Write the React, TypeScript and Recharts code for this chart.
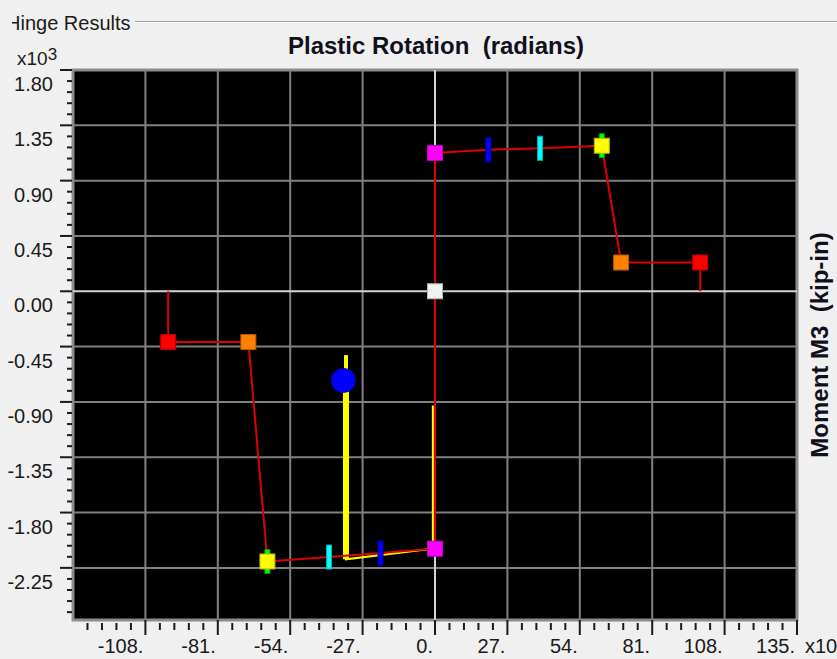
import React from "react";
import {
  ComposedChart,
  Line,
  ReferenceArea,
  ReferenceLine,
  Scatter,
  XAxis,
  YAxis,
} from "recharts";

const WIDTH = 837;
const HEIGHT = 659;
const PLOT = { left: 73, right: 797, top: 70, bottom: 620 };
const FONT = "'Liberation Sans', Arial, sans-serif";

// rotation in x10^-3 rad, moment in x10^3 kip-in
const X_DOMAIN: [number, number] = [-135, 135];
const Y_DOMAIN: [number, number] = [-2.674, 1.8];

const rotationGridLines = [-108, -81, -54, -27, 27, 54, 81, 108];
const momentGridLines = [1.35, 0.9, 0.45, -0.45, -0.9, -1.35, -1.8, -2.25];

// five minor divisions per labelled step
const rotationTicks = Array.from({ length: 50 }, (_, i) =>
  Math.round((-135 + 5.4 * (i + 1)) * 10) / 10,
);
const momentTicks = Array.from({ length: 50 }, (_, i) =>
  Math.round((1.8 - 0.09 * i) * 100) / 100,
);

// hinge backbone points, in order B, IO, LS, CP, C, D, E
const hingePoints = ["B", "IO", "LS", "CP", "C", "D", "E"];
const positiveRotation = [0, 19.9, 39.2, 62.2, 62.2, 69.4, 98.9];
const positiveMoment = [1.125, 1.152, 1.163, 1.184, 1.184, 0.234, 0.234];
const negativeRotation = [0, -20.3, -39.5, -62.5, -62.5, -69.6, -99.5];
const negativeMoment = [-2.094, -2.129, -2.162, -2.198, -2.198, -0.413, -0.413];

// analysis path of the hinge
const responseRotation = [-0.8, -0.8, -33.2, -33.2];
const responseMoment = [-0.93, -2.094, -2.18, -0.52];
const currentRotation = -34.2;
const currentMoment = -0.725;

const backboneData = [
  { x: negativeRotation[6], y: 0 },
  ...negativeRotation
    .map((x, i) => ({ x, y: negativeMoment[i] }))
    .reverse(),
  ...positiveRotation.map((x, i) => ({ x, y: positiveMoment[i] })),
  { x: positiveRotation[6], y: 0 },
];

const responseData = responseRotation.map((x, i) => ({
  x,
  y: responseMoment[i],
}));
const currentBarData = [
  { x: responseRotation[2], y: responseMoment[2] },
  { x: responseRotation[2], y: currentMoment },
];
const currentTipData = [
  { x: responseRotation[2], y: currentMoment },
  { x: responseRotation[2], y: responseMoment[3] },
];

const markerData = [
  { x: 0, y: 0, state: "A" },
  ...hingePoints.map((state, i) => ({
    x: negativeRotation[i],
    y: negativeMoment[i],
    state,
  })),
  ...hingePoints.map((state, i) => ({
    x: positiveRotation[i],
    y: positiveMoment[i],
    state,
  })),
];

const stateStyles: Record<string, { bar: boolean; fill: string; stroke: string }> = {
  A: { bar: false, fill: "#f2f2f2", stroke: "#b4b4b4" },
  B: { bar: false, fill: "#ff00ff", stroke: "#c000c0" },
  IO: { bar: true, fill: "#0000ff", stroke: "#0000b0" },
  LS: { bar: true, fill: "#00ffff", stroke: "#00b4b4" },
  CP: { bar: true, fill: "#00ff00", stroke: "#00a000" },
  C: { bar: false, fill: "#ffff00", stroke: "#b4b400" },
  D: { bar: false, fill: "#ff8000", stroke: "#b45a00" },
  E: { bar: false, fill: "#ff0000", stroke: "#b40000" },
};

function isMultiple(value: number, step: number) {
  const ratio = value / step;
  return Math.abs(ratio - Math.round(ratio)) < 1e-6;
}

function HingeMarker(props: any) {
  const { cx, cy, payload } = props;
  const style = stateStyles[payload.state];
  if (style.bar) {
    return (
      <rect
        x={cx - 2.5}
        y={cy - 12}
        width={5}
        height={24}
        fill={style.fill}
        stroke={style.stroke}
        strokeWidth={1}
      />
    );
  }
  return (
    <rect
      x={cx - 7.5}
      y={cy - 7.5}
      width={15}
      height={15}
      fill={style.fill}
      stroke={style.stroke}
      strokeWidth={1}
    />
  );
}

function CurrentStep(props: any) {
  const { cx, cy } = props;
  return <circle cx={cx} cy={cy} r={12} fill="#0000ff" stroke="#0000d0" />;
}

function RotationTick(props: any) {
  const { x, payload } = props;
  const major = isMultiple(payload.value, 27);
  return (
    <g>
      <line
        x1={x}
        x2={x}
        y1={major ? PLOT.bottom : PLOT.bottom + 3}
        y2={major ? PLOT.bottom + 15 : PLOT.bottom + 10}
        stroke="#1a1a1a"
        strokeWidth={2}
      />
      {major && (
        <text
          x={x - 2}
          y={PLOT.bottom + 33}
          textAnchor="end"
          fontFamily={FONT}
          fontSize={20}
          fill="#1a1a1a"
        >
          {`${payload.value}.`}
        </text>
      )}
    </g>
  );
}

function MomentTick(props: any) {
  const { y, payload } = props;
  const major = isMultiple(payload.value, 0.45);
  return (
    <g>
      <line
        x1={major ? PLOT.left - 13 : PLOT.left - 6}
        x2={PLOT.left - 1}
        y1={y}
        y2={y}
        stroke="#1a1a1a"
        strokeWidth={2}
      />
      {major && (
        <text
          x={PLOT.left - 20}
          y={y + 21}
          textAnchor="end"
          fontFamily={FONT}
          fontSize={20}
          fill="#1a1a1a"
        >
          {payload.value.toFixed(2)}
        </text>
      )}
    </g>
  );
}

export default function App() {
  return (
    <div
      style={{
        position: "absolute",
        left: 0,
        top: 0,
        width: WIDTH,
        height: HEIGHT,
        background: "#f0f0f0",
        overflow: "hidden",
      }}
    >
      <ComposedChart
        width={WIDTH}
        height={HEIGHT}
        margin={{
          top: PLOT.top,
          right: WIDTH - PLOT.right,
          bottom: 0,
          left: 0,
        }}
      >
        <XAxis
          dataKey="x"
          type="number"
          domain={X_DOMAIN}
          allowDataOverflow
          ticks={rotationTicks}
          interval={0}
          height={HEIGHT - PLOT.bottom}
          axisLine={false}
          tickLine={false}
          tick={<RotationTick />}
        />
        <YAxis
          dataKey="y"
          type="number"
          domain={Y_DOMAIN}
          allowDataOverflow
          ticks={momentTicks}
          interval={0}
          width={PLOT.left}
          axisLine={false}
          tickLine={false}
          tick={<MomentTick />}
        />
        <ReferenceArea
          x1={X_DOMAIN[0]}
          x2={X_DOMAIN[1]}
          y1={Y_DOMAIN[0]}
          y2={Y_DOMAIN[1]}
          fill="#000000"
          fillOpacity={1}
          stroke="#8c8c8c"
          strokeWidth={3}
          zIndex={-60}
        />
        {rotationGridLines.map((v) => (
          <ReferenceLine key={`gx${v}`} x={v} stroke="#808080" strokeWidth={2} zIndex={-50} />
        ))}
        {momentGridLines.map((v) => (
          <ReferenceLine key={`gy${v}`} y={v} stroke="#808080" strokeWidth={2} zIndex={-50} />
        ))}
        <ReferenceLine x={0} stroke="#d4d4d4" strokeWidth={2} zIndex={-50} />
        <ReferenceLine y={0} stroke="#d4d4d4" strokeWidth={2} zIndex={-50} />

        <Line
          data={responseData}
          dataKey="y"
          type="linear"
          stroke="#ffff00"
          strokeWidth={2}
          dot={false}
          activeDot={false}
          isAnimationActive={false}
        />
        <Line
          data={currentBarData}
          dataKey="y"
          type="linear"
          stroke="#ffff00"
          strokeWidth={6}
          dot={false}
          activeDot={false}
          isAnimationActive={false}
        />
        <Line
          data={currentTipData}
          dataKey="y"
          type="linear"
          stroke="#ffff00"
          strokeWidth={4}
          dot={false}
          activeDot={false}
          isAnimationActive={false}
        />
        <Line
          data={backboneData}
          dataKey="y"
          type="linear"
          stroke="#e00000"
          strokeWidth={2}
          dot={false}
          activeDot={false}
          isAnimationActive={false}
        />
        <Scatter
          data={markerData}
          dataKey="y"
          shape={<HingeMarker />}
          isAnimationActive={false}
        />
        <Scatter
          data={[{ x: currentRotation, y: currentMoment }]}
          dataKey="y"
          shape={<CurrentStep />}
          isAnimationActive={false}
        />
      </ComposedChart>

      <svg
        width={WIDTH}
        height={HEIGHT}
        style={{ position: "absolute", left: 0, top: 0, pointerEvents: "none" }}
      >
        <line x1={135} x2={WIDTH} y1={21.5} y2={21.5} stroke="#a0a0a0" strokeWidth={1} />
        <line x1={135} x2={WIDTH} y1={22.5} y2={22.5} stroke="#ffffff" strokeWidth={1} />
        <text x={6} y={30} fontFamily={FONT} fontSize={20} fill="#1a1a1a">
          Hinge Results
        </text>
        <rect x={0} y={10} width={12} height={24} fill="#f0f0f0" />
        <text x={17} y={65} fontFamily={FONT} fontSize={19} fill="#1a1a1a">
          x10
          <tspan fontSize={17} dy={-5}>
            3
          </tspan>
        </text>
        <text
          x={436}
          y={54}
          textAnchor="middle"
          fontFamily={FONT}
          fontSize={24}
          fontWeight="bold"
          fill="#10101c"
        >
          Plastic Rotation{"\u00a0\u00a0"}(radians)
        </text>
        <text
          transform="translate(828, 345) rotate(-90)"
          textAnchor="middle"
          fontFamily={FONT}
          fontSize={24}
          fontWeight="bold"
          fill="#10101c"
        >
          Moment M3{"\u00a0\u00a0"}(kip-in)
        </text>
        <text x={805} y={653} fontFamily={FONT} fontSize={20} fill="#1a1a1a">
          x10
        </text>
      </svg>
    </div>
  );
}
